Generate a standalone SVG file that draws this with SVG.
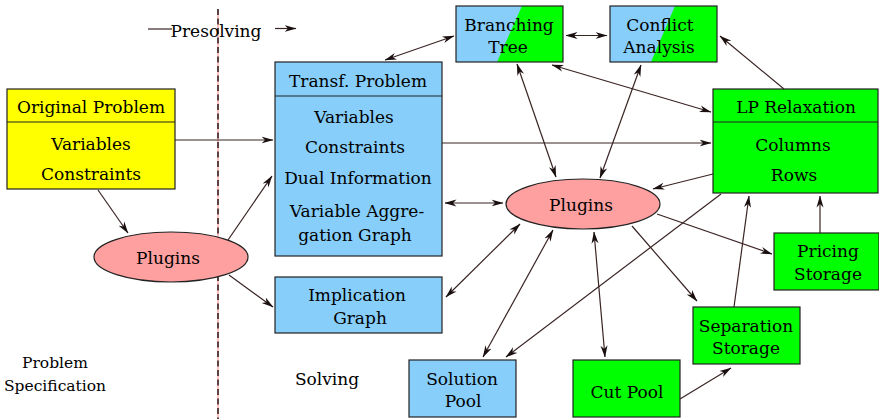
<svg xmlns="http://www.w3.org/2000/svg" width="879" height="419" viewBox="0 0 879 419">
<defs>
<marker id="ah" viewBox="0 0 12 8" refX="11.5" refY="4" markerWidth="12" markerHeight="8" markerUnits="userSpaceOnUse" orient="auto-start-reverse">
<path d="M0,0.5 L12,4 L0,7.5 L3.5,4 z" fill="#1a1010"/>
</marker>
<style>
.t{font-family:'DejaVu Serif',serif;font-size:17px;fill:#000;text-anchor:middle}
.box{stroke:#222;stroke-width:1.2}
.yel{fill:#ffff00}
.blu{fill:#87cefa}
.grn{fill:#00ff00}
.ell{fill:#ffa0a0;stroke:#222;stroke-width:1.2}
.c line{stroke:#3a2424;stroke-width:1.2;fill:none}
.a{marker-end:url(#ah)}
.d{marker-start:url(#ah);marker-end:url(#ah)}
</style>
</defs>
<rect width="879" height="419" fill="#fff"/>

<line x1="218" y1="9" x2="218" y2="419" stroke="#ff8080" stroke-width="1"/>
<line x1="218" y1="9" x2="218" y2="419" stroke="#000" stroke-width="1.3" stroke-dasharray="6,3.5"/>

<g id="labels">
<text class="t" x="216" y="37" font-family="DejaVu Serif">Presolving</text>
<text class="t" x="55" y="368" font-family="DejaVu Serif" style="font-size:15.5px">Problem</text>
<text class="t" x="55" y="391" font-family="DejaVu Serif" style="font-size:15.5px">Specification</text>
<text class="t" x="327" y="385" font-family="DejaVu Serif">Solving</text>
</g>

<g id="orig">
<rect class="box yel" x="7" y="89" width="168" height="100"/>
<line x1="7" y1="122" x2="175" y2="122" stroke="#222" stroke-width="1.2"/>
<text class="t" x="91" y="113" font-family="DejaVu Serif">Original Problem</text>
<text class="t" x="91" y="150" font-family="DejaVu Serif">Variables</text>
<text class="t" x="91" y="180" font-family="DejaVu Serif">Constraints</text>
</g>

<g id="plugins1">
<ellipse class="ell" cx="171" cy="257" rx="77" ry="25"/>
<text class="t" x="168" y="264" font-family="DejaVu Serif">Plugins</text>
</g>

<g id="transf">
<rect class="box blu" x="275" y="62" width="167" height="194"/>
<line x1="275" y1="96" x2="442" y2="96" stroke="#222" stroke-width="1.2"/>
<text class="t" x="358" y="87" font-family="DejaVu Serif">Transf. Problem</text>
<text class="t" x="354" y="123" font-family="DejaVu Serif">Variables</text>
<text class="t" x="355" y="153" font-family="DejaVu Serif">Constraints</text>
<text class="t" x="358" y="184" font-family="DejaVu Serif">Dual Information</text>
<text class="t" x="357" y="217" font-family="DejaVu Serif">Variable Aggre-</text>
<text class="t" x="355" y="241" font-family="DejaVu Serif">gation Graph</text>
</g>

<g id="impl">
<rect class="box blu" x="275" y="277" width="167" height="56"/>
<text class="t" x="357" y="301" font-family="DejaVu Serif">Implication</text>
<text class="t" x="360" y="324" font-family="DejaVu Serif">Graph</text>
</g>

<g id="branch">
<polygon class="grn" points="456,6 563,6 563,62 456,62"/>
<polygon class="blu" points="456,6 522,6 497,62 456,62"/>
<rect x="456" y="6" width="107" height="56" fill="none" stroke="#222" stroke-width="1.2"/>
<text class="t" x="509" y="31" font-family="DejaVu Serif">Branching</text>
<text class="t" x="508" y="53" font-family="DejaVu Serif">Tree</text>
</g>

<g id="conflict">
<polygon class="grn" points="610,6 717,6 717,62 610,62"/>
<polygon class="blu" points="610,6 675,6 651,62 610,62"/>
<rect x="610" y="6" width="107" height="56" fill="none" stroke="#222" stroke-width="1.2"/>
<text class="t" x="660" y="31" font-family="DejaVu Serif">Conflict</text>
<text class="t" x="659" y="53" font-family="DejaVu Serif">Analysis</text>
</g>

<g id="lp">
<rect class="box grn" x="713" y="89" width="165" height="104"/>
<line x1="713" y1="122" x2="878" y2="122" stroke="#222" stroke-width="1.2"/>
<text class="t" x="796" y="113" font-family="DejaVu Serif">LP Relaxation</text>
<text class="t" x="793" y="151" font-family="DejaVu Serif">Columns</text>
<text class="t" x="794" y="181" font-family="DejaVu Serif">Rows</text>
</g>

<g id="plugins2">
<ellipse class="ell" cx="583" cy="204" rx="77" ry="25"/>
<text class="t" x="581" y="211" font-family="DejaVu Serif">Plugins</text>
</g>

<g id="pricing">
<rect class="box grn" x="774" y="233" width="105" height="57"/>
<text class="t" x="828" y="257" font-family="DejaVu Serif">Pricing</text>
<text class="t" x="828" y="280" font-family="DejaVu Serif">Storage</text>
</g>

<g id="separation">
<rect class="box grn" x="693" y="307" width="107" height="57"/>
<text class="t" x="746" y="332" font-family="DejaVu Serif">Separation</text>
<text class="t" x="746" y="354" font-family="DejaVu Serif">Storage</text>
</g>

<g id="cutpool">
<rect class="box grn" x="573" y="360" width="107" height="57"/>
<text class="t" x="627" y="398" font-family="DejaVu Serif">Cut Pool</text>
</g>

<g id="solpool">
<rect class="box blu" x="409" y="360" width="107" height="57"/>
<text class="t" x="462" y="385" font-family="DejaVu Serif">Solution</text>
<text class="t" x="463" y="407" font-family="DejaVu Serif">Pool</text>
</g>

<g id="connectors" class="c">
<line x1="148" y1="29" x2="172" y2="29"/>
<line class="a" x1="275" y1="28.5" x2="296" y2="28.5"/>
<line class="a" x1="175" y1="140" x2="273" y2="140"/>
<line class="a" x1="98" y1="190" x2="128" y2="233"/>
<line class="a" x1="228" y1="240" x2="272" y2="176"/>
<line class="a" x1="229" y1="275" x2="273" y2="307"/>
<line class="d" x1="385" y1="60" x2="454" y2="36"/>
<line class="d" x1="566" y1="35.5" x2="607" y2="35.5"/>
<line class="a" x1="442" y1="143" x2="711" y2="143"/>
<line class="d" x1="445" y1="203" x2="503" y2="203"/>
<line class="d" x1="517" y1="64" x2="556" y2="177"/>
<line class="d" x1="641" y1="65" x2="600" y2="178"/>
<line class="d" x1="552" y1="65" x2="711" y2="112"/>
<line class="a" x1="784" y1="89" x2="720" y2="36"/>
<line class="a" x1="713" y1="174" x2="653" y2="189"/>
<line class="d" x1="520" y1="224" x2="446" y2="297"/>
<line class="d" x1="553" y1="230" x2="483" y2="357"/>
<line class="a" x1="721" y1="194" x2="506" y2="357"/>
<line class="d" x1="594" y1="232" x2="605" y2="357"/>
<line class="a" x1="632" y1="226" x2="697" y2="301"/>
<line class="a" x1="657" y1="214" x2="772" y2="254"/>
<line class="a" x1="734" y1="307" x2="749" y2="196"/>
<line class="a" x1="820" y1="233" x2="820" y2="196"/>
<line class="a" x1="680" y1="399" x2="731" y2="368"/>
</g>
</svg>
